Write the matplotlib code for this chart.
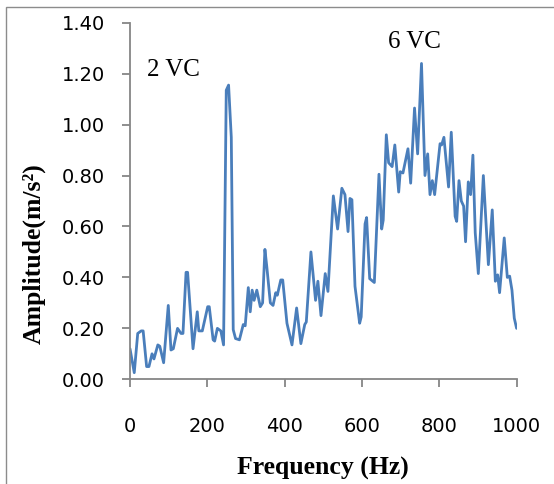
import matplotlib
matplotlib.use("Agg")
import matplotlib.pyplot as plt
from matplotlib.patches import Rectangle
from matplotlib.ticker import FormatStrFormatter

freq = [0, 11, 20, 29, 34, 43, 49, 57, 62, 72, 77, 87, 99, 106, 112, 123, 132, 137,
        145, 149, 163, 174, 178, 187, 201, 205, 215, 219, 226, 235, 242, 249, 255, 262,
        267, 273, 283, 293, 298, 306, 311, 316, 321, 328, 337, 343, 349, 354, 363, 370,
        377, 381, 390, 395, 406, 419, 431, 442, 452, 456, 468, 480, 486, 494, 505, 512,
        526, 537, 548, 556, 564, 569, 574, 582, 594, 598, 608, 612, 620, 632, 644, 651,
        655, 663, 669, 678, 685, 695, 699, 706, 719, 726, 736, 744, 754, 763, 770, 776,
        782, 788, 802, 806, 812, 824, 831, 841, 845, 851, 857, 863, 868, 875, 881, 887,
        893, 901, 914, 927, 937, 945, 951, 956, 968, 976, 982, 988, 994, 1000]
amp = [0.12, 0.026, 0.18, 0.19, 0.19, 0.05, 0.05, 0.10, 0.08, 0.135, 0.13, 0.065, 0.29,
       0.115, 0.12, 0.20, 0.18, 0.18, 0.42, 0.42, 0.12, 0.265, 0.19, 0.19, 0.285, 0.285,
       0.155, 0.15, 0.20, 0.19, 0.135, 1.135, 1.155, 0.95, 0.195, 0.16, 0.155, 0.215, 0.21,
       0.36, 0.265, 0.35, 0.31, 0.35, 0.285, 0.30, 0.51, 0.44, 0.30, 0.29, 0.34, 0.33, 0.39,
       0.39, 0.22, 0.135, 0.28, 0.14, 0.215, 0.225, 0.50, 0.31, 0.385, 0.25, 0.415, 0.345,
       0.72, 0.59, 0.75, 0.725, 0.58, 0.71, 0.705, 0.365, 0.22, 0.245, 0.61, 0.635, 0.395,
       0.38, 0.805, 0.59, 0.625, 0.96, 0.85, 0.835, 0.92, 0.735, 0.815, 0.81, 0.905, 0.77,
       1.065, 0.885, 1.24, 0.80, 0.885, 0.725, 0.78, 0.725, 0.925, 0.92, 0.95, 0.755, 0.97,
       0.64, 0.62, 0.78, 0.70, 0.68, 0.54, 0.775, 0.725, 0.88, 0.575, 0.415, 0.80, 0.45,
       0.665, 0.385, 0.41, 0.34, 0.555, 0.40, 0.405, 0.35, 0.24, 0.20]

x_ticks = [0, 200, 400, 600, 800, 1000]
y_ticks = [0.0, 0.2, 0.4, 0.6, 0.8, 1.0, 1.2, 1.4]
annotations = [("2 VC", 112, 1.215), ("6 VC", 736, 1.325)]

W, H = 554, 484
fig = plt.figure(figsize=(W / 100, H / 100), dpi=100)
fig.patch.set_facecolor("white")

# outer border (only left/top visible)
fig.patches.append(Rectangle((6 / W, -0.02), 1.1, 1 - 7 / H + 0.02,
                             transform=fig.transFigure, fill=False,
                             edgecolor="#8c8c8c", linewidth=1.0))

ax = fig.add_axes([130 / W, 1 - 379.3 / H, (516.6 - 130) / W, (379.3 - 22.7) / H])
ax.plot(freq, amp, color="#4a7ebb", linewidth=2.0, solid_joinstyle="round",
        solid_capstyle="round")

ax.set_xlim(0, 1000)
ax.set_ylim(0, 1.4)
ax.set_xticks(x_ticks)
ax.set_yticks(y_ticks)
ax.yaxis.set_major_formatter(FormatStrFormatter("%.2f"))

for s in ["top", "right"]:
    ax.spines[s].set_visible(False)
for s in ["left", "bottom"]:
    ax.spines[s].set_color("#868686")
    ax.spines[s].set_linewidth(1.3)

ax.tick_params(axis="both", direction="out", color="#868686", width=1.3,
               labelsize=14, labelcolor="black")
ax.tick_params(axis="y", length=6, pad=12)
ax.tick_params(axis="x", length=5.5, pad=22)
for lbl in ax.get_xticklabels() + ax.get_yticklabels():
    lbl.set_fontfamily("DejaVu Sans")

ax.set_xlabel("Frequency (Hz)", fontfamily="Liberation Serif", fontweight="bold",
              fontsize=18.5)
ax.xaxis.set_label_coords((323 - 130) / (516.6 - 130), -(468 - 379.3) / (379.3 - 22.7))
ax.xaxis.label.set_va("center")
ax.set_ylabel("Amplitude(m/s²)", fontfamily="Liberation Serif", fontweight="bold",
              fontsize=18.5)
ax.yaxis.set_label_coords(-(130 - 34) / (516.6 - 130), (379.3 - 254) / (379.3 - 22.7))
ax.yaxis.label.set_va("center")

for text, tx, ty in annotations:
    ax.text(tx, ty, text, fontfamily="Liberation Serif", fontsize=18,
            ha="center", va="center", color="black")

fig.savefig("out.png", dpi=100)
